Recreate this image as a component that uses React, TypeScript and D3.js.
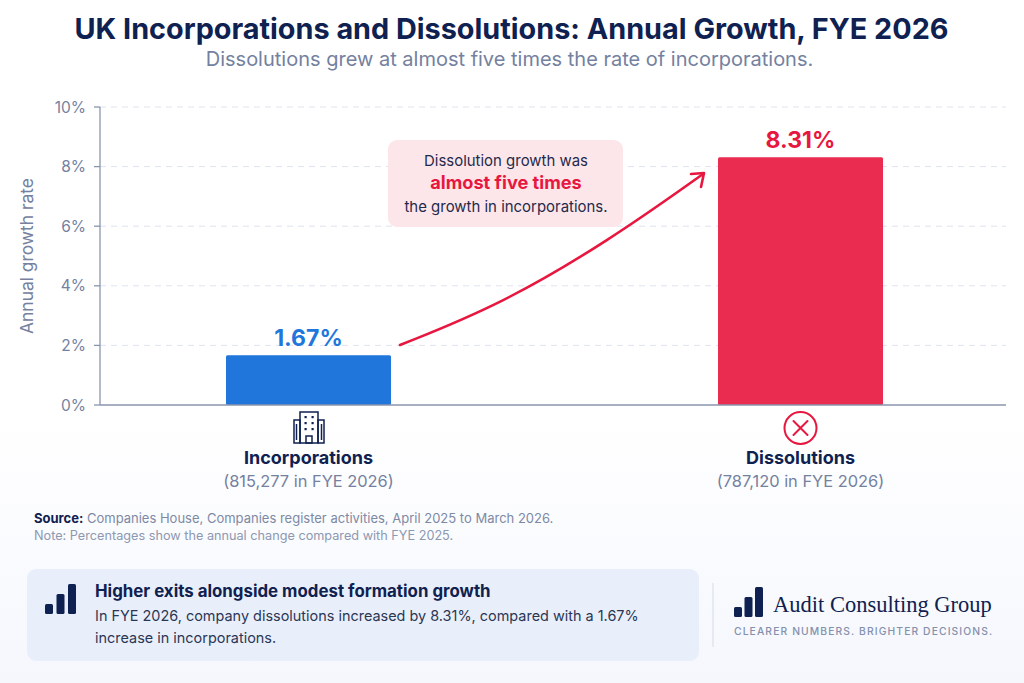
import * as d3 from "d3";

const categories = ["Incorporations", "Dissolutions"];
const growth = [1.67, 8.31];
const growthLabels = ["1.67%", "8.31%"];
const totals = ["(815,277 in FYE 2026)", "(787,120 in FYE 2026)"];
const barColors = ["#2176dc", "#e92c50"];
const labelColors = ["#1f77dc", "#e8173f"];
const yTicks = [0, 2, 4, 6, 8, 10];
const logoBars = [10, 20, 30];

const width = 1024;
const height = 683;
const navy = "#0f2150";
const grey = "#74819f";
const font = "Inter, 'Noto Sans', sans-serif";

function LogoBars({ x, y, w, gap, h }: { x: number; y: number; w: number; gap: number; h: number }) {
  const sy = d3.scaleLinear().domain([0, 30]).range([0, h]);
  return (
    <g>
      {logoBars.map((v, i) => (
        <rect key={i} x={x + i * (w + gap)} y={y + h - sy(v)} width={w} height={sy(v)} rx={1.5} fill={navy} />
      ))}
    </g>
  );
}

export default function App() {
  const y = d3.scaleLinear().domain([0, 10]).range([405, 107]);
  const x = d3.scalePoint<string>().domain(categories).range([308.5, 800.5]);
  const barW = 165;

  const arrow = d3.line().curve(d3.curveBasis)([
    [400, 345],
    [500, 305],
    [610, 240],
    [703, 174],
  ]);

  return (
    <svg
      width={width}
      height={height}
      viewBox={`0 0 ${width} ${height}`}
      style={{ position: "fixed", left: 0, top: 0, display: "block", fontFamily: font }}
    >
      <defs>
        <linearGradient id="bg" x1="0" y1="0" x2="0" y2="1">
          <stop offset="0.6" stopColor="#ffffff" />
          <stop offset="1" stopColor="#f5f7fd" />
        </linearGradient>
      </defs>
      <rect width={width} height={height} fill="url(#bg)" />

      <text x={511.5} y={39} textAnchor="middle" fontSize={28.8} fontWeight={700} fill={navy}>
        UK Incorporations and Dissolutions: Annual Growth, FYE 2026
      </text>
      <text x={509.5} y={66} textAnchor="middle" fontSize={20} fill={grey}>
        Dissolutions grew at almost five times the rate of incorporations.
      </text>

      {/* grid and y axis */}
      {yTicks.filter((t) => t > 0).map((t) => (
        <line key={t} x1={100} x2={1006} y1={y(t)} y2={y(t)} stroke="#dfe3ef" strokeWidth={1} strokeDasharray="6 5" />
      ))}
      <line x1={100} x2={100} y1={y(10)} y2={y(0)} stroke="#8a95ad" strokeWidth={1.3} />
      {yTicks.map((t) => (
        <g key={t}>
          <line x1={94} x2={100} y1={y(t)} y2={y(t)} stroke="#8a95ad" strokeWidth={1.3} />
          <text x={86} y={y(t) + 5.5} textAnchor="end" fontSize={15.5} fill={grey}>
            {t}%
          </text>
        </g>
      ))}
      <text
        transform={`translate(33,256) rotate(-90)`}
        textAnchor="middle"
        fontSize={17.4}
        fill={grey}
      >
        Annual growth rate
      </text>

      {/* bars */}
      {categories.map((c, i) => (
        <g key={c}>
          <rect
            x={x(c)! - barW / 2}
            y={y(growth[i])}
            width={barW}
            height={y(0) - y(growth[i])}
            fill={barColors[i]}
            rx={1.5}
          />
          <text
            x={x(c)}
            y={y(growth[i]) - 9}
            textAnchor="middle"
            fontSize={23}
            fontWeight={700}
            fill={labelColors[i]}
          >
            {growthLabels[i]}
          </text>
          <text x={x(c)} y={464} textAnchor="middle" fontSize={18} fontWeight={700} fill={navy}>
            {c}
          </text>
          <text x={x(c)} y={487} textAnchor="middle" fontSize={16.4} fill={grey}>
            {totals[i]}
          </text>
        </g>
      ))}
      <line x1={100} x2={1006} y1={y(0)} y2={y(0)} stroke="#8a95ad" strokeWidth={1.5} />

      {/* building icon */}
      <g fill="none" stroke={navy} strokeWidth={1.5}>
        <rect x={300} y={412} width={18} height={31} />
        <rect x={294} y={420} width={6} height={23} />
        <rect x={318} y={420} width={6} height={23} />
        <rect x={306} y={436} width={6} height={7} />
        <line x1={296.5} x2={296.5} y1={424} y2={440} />
        <line x1={321.5} x2={321.5} y1={424} y2={440} />
      </g>
      <g fill={navy}>
        {[417, 423, 429].flatMap((cy) =>
          [305.5, 312.5].map((cx) => <rect key={`${cx}-${cy}`} x={cx - 1} y={cy - 1} width={2.2} height={2.2} />)
        )}
      </g>

      {/* cross icon */}
      <circle cx={800.5} cy={428} r={16} fill="none" stroke="#e8173f" strokeWidth={2} />
      <path d="M793.5 421 L807.5 435 M807.5 421 L793.5 435" stroke="#e8173f" strokeWidth={2} strokeLinecap="round" />

      {/* callout */}
      <rect x={388} y={140} width={235} height={87} rx={9} fill="#fde6e9" />
      <text x={506} y={166} textAnchor="middle" fontSize={14.95} fill="#1f2a4d">
        Dissolution growth was
      </text>
      <text x={506} y={189} textAnchor="middle" fontSize={18.2} fontWeight={700} fill="#e8173f">
        almost five times
      </text>
      <text x={506} y={212} textAnchor="middle" fontSize={14.95} fill="#1f2a4d">
        the growth in incorporations.
      </text>

      {/* arrow */}
      <path d={arrow ?? ""} fill="none" stroke="#e8173f" strokeWidth={2.6} strokeLinecap="round" />
      <path
        d="M691 174 L704 173 L701 187"
        fill="none"
        stroke="#e8173f"
        strokeWidth={2.6}
        strokeLinecap="round"
        strokeLinejoin="round"
      />

      {/* source */}
      <text x={34} y={523} fontSize={13} fill="#7d89a5">
        <tspan fontWeight={700} fill={navy}>Source:</tspan> Companies House, Companies register activities, April 2025 to March 2026.
      </text>
      <text x={34} y={540} fontSize={12.7} fill="#8d98b1">
        Note: Percentages show the annual change compared with FYE 2025.
      </text>

      {/* takeaway panel */}
      <rect x={27} y={569} width={672} height={92} rx={9} fill="#e9effa" />
      <LogoBars x={45} y={584} w={8} gap={3.5} h={30} />
      <text x={95} y={597} fontSize={16.85} fontWeight={700} fill={navy}>
        Higher exits alongside modest formation growth
      </text>
      <text x={95} y={621} fontSize={14.45} fill="#2b3655">
        In FYE 2026, company dissolutions increased by 8.31%, compared with a 1.67%
      </text>
      <text x={95} y={643} fontSize={14.45} fill="#2b3655">
        increase in incorporations.
      </text>

      {/* logo */}
      <line x1={713} x2={713} y1={583} y2={647} stroke="#d5dae6" strokeWidth={1} />
      <LogoBars x={734} y={587} w={8} gap={2.5} h={30} />
      <text x={773} y={612} fontFamily="'Liberation Serif', serif" fontSize={22.5} fill={navy}>
        Audit Consulting Group
      </text>
      <text x={734} y={635} fontSize={10.3} fontWeight={500} letterSpacing={1.12} fill="#8490ac">
        CLEARER NUMBERS. BRIGHTER DECISIONS.
      </text>
    </svg>
  );
}
